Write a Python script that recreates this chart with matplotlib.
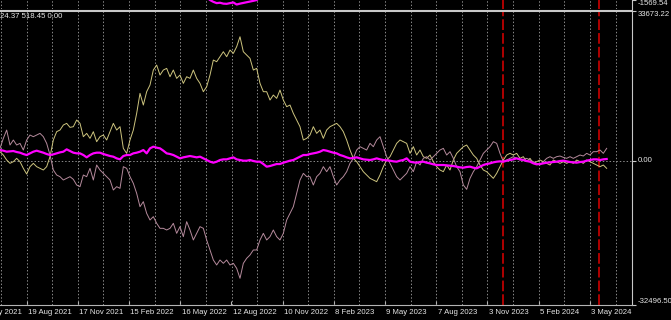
import numpy as np
import matplotlib.pyplot as plt
from matplotlib import transforms

# one value every ~3.3 px of the chart (sample index is the x unit)
yellow = [2010, 1260, 135, -615, -240, 510, -240, -1740, -3015, -1365,
          -615, -1365, -1740, -2115, -1365, 885, 4635, 6510, 6885, 8010,
          8385, 7485, 7635, 9135, 8385, 5385, 6135, 5010, 6510, 4260,
          5385, 5760, 4635, 6510, 8385, 6885, 7635, 2760, 1635, 4635,
          6885, 10635, 15135, 12510, 15510, 17010, 20385, 21510, 19260, 20385,
          20760, 18885, 20385, 18510, 19260, 17385, 18885, 18510, 20385, 18510,
          17385, 15510, 16635, 19260, 22635, 22260, 23385, 24510, 23385, 24885,
          24135, 25635, 27885, 24510, 23760, 23010, 20385, 20760, 17385, 15510,
          15510, 13635, 14760, 14010, 15885, 13635, 12135, 12510, 10635, 9135,
          7635, 4635, 5010, 5760, 7635, 6135, 6885, 5010, 6885,
          7635, 8010, 8385, 7635, 6510, 4635, 2385, 510, -240, -1365,
          -2490, -3240, -3990, -4365, -4740, -3240, -1365, 135, 885, 2385,
          3885, 4635, 4260, 3885, 1635, 3135, 1260, 2385, 885, 510,
          1260, -240, -1365, -2115, -2490, -990, -2115, 135, 1635, 2385,
          3135, 3510, 2385, 1260, 510, -990, -2115, -2490, -3240, -3990,
          -2865, -1365, 135, 1260, 1635, 1260, 1635, 510, 885, -240,
          510, -615, -240, 135, -240, -615, -990, 135, -240, -615,
          -240, -615, -240, -615, 135, -240, -615, 135, -240, -615,
          -990, -1365, -990, -1740]

pink = [2760, 5010, 6885, 3510, 4635, 3510, 3885, 2385, 4635, 5760,
        5385, 5760, 6135, 5385, 3885, 1260, -2115, -3240, -3615, -4365,
        -3990, -3615, -4215, -5490, -5865, -3240, -3615, -1740, -4365, -990,
        -2115, -2865, -3615, -4365, -6615, -5865, -6240, -1365, -1740, -3615,
        -5115, -7365, -10365, -9240, -11865, -13365, -12615, -14115, -15240, -15240,
        -15615, -15240, -14115, -16365, -14865, -17115, -13740, -15615, -17865, -16365,
        -14865, -15240, -17865, -20115, -22365, -23490, -22365, -23115, -22365, -23490,
        -23115, -24240, -26490, -23115, -21990, -21240, -20115, -20115, -17865, -16365,
        -17865, -17115, -15615, -17115, -17865, -16365, -13365, -11865, -10365, -7365,
        -4365, -2865, -3615, -3615, -5490, -3615, -2865, -1365, -2490,
        -1365, -3615, -5490, -4365, -3615, -2490, -615, 510, 2385, 3135,
        2760, 2385, 3885, 3135, 4635, 5385, 3135, 885, -615, -2115,
        -3615, -4365, -3615, -2865, -1365, -2490, -240, -990, 510, 885,
        135, 885, 1635, 2385, 2760, 1260, 2010, 510, -1365, -2490,
        -5490, -6465, -3990, -2490, -1365, 135, 1635, 2385, 3135, 4260,
        3885, 1635, -240, 135, 510, 885, 510, 135, 285, 510,
        135, -240, -615, -990, -240, 510, 885, 510, 885, 1035,
        735, 510, 885, 510, 885, 1260, 1035, 1635, 1260, 2010,
        2010, 2385, 1635, 2760]

magenta = [2385, 2235, 2010, 2085, 2160, 1935, 1785, 1485, 1260, 1635,
           2010, 2235, 2010, 1785, 1485, 1260, 1410, 1635, 1860, 2010,
           2535, 2160, 1785, 1635, 1635, 1260, 735, 1260, 1635, 1785,
           1785, 1485, 1260, 1035, 885, 510, 285, 1035, 1260, 1260,
           1635, 1785, 2010, 2385, 1635, 2760, 3135, 2910, 2760, 2235,
           1635, 1485, 1260, 885, 510, 735, 885, 1035, 885, 735,
           885, 510, 135, -240, -465, -240, 135, 285, 285, 510,
           735, 285, 135, -15, -15, 135, -90, -240, -240, -765,
           -1365, -1215, -990, -765, -765, -465, -240, -15, 135, 510,
           885, 1260, 1260, 1485, 1635, 1785, 2010, 2385, 2235,
           2010, 1785, 1635, 1260, 1035, 735, 510, 585, 735, 510,
           285, 210, 135, 285, 510, 285, 135, 60, -15, -165,
           -240, -15, 135, 510, -240, -390, -465, -315, -240, -465,
           -615, -840, -990, -990, -990, -1065, -1140, -1215, -1365, -1515,
           -1590, -1440, -1365, -1590, -1740, -1365, -990, -765, -615, -390,
           -240, -165, -240, -15, 135, 285, 510, 285, 135, -90,
           -240, -615, -840, -765, -615, -465, -390, -315, -240, -90,
           -15, -165, -315, -390, -465, -315, -240, -15, 135, 285,
           285, 135, 285, 360]

# the piece of the upper window that is visible
top_start = 62
top_vals = [-1542, -1570, -1588, -1601, -1597, -1606, -1608, -1601, -1594,
            -1615, -1606, -1599, -1592, -1585, -1578, -1570, -1542]

date_labels = ["20 May 2021", "19 Aug 2021", "17 Nov 2021", "15 Feb 2022",
               "16 May 2022", "12 Aug 2022", "10 Nov 2022", "8 Feb 2023",
               "9 May 2023", "7 Aug 2023", "3 Nov 2023", "5 Feb 2024", "3 May 2024"]
first_label = -7.36
label_step = 15.36
events = [151.0, 179.8]

main_max, main_min = 33673.22, -32496.50
top_max = -1569.54

bg = 'black'
txt = '#e6e6e6'
axis_col = '#c8c8c8'
grid_col = '#8a8a8a'
x_right = 632 / (10 / 3)

fig = plt.figure(figsize=(6.71, 3.2), dpi=100, facecolor=bg)
ax = fig.add_axes([0, 15 / 320, 632 / 671, 294 / 320])
axt = fig.add_axes([0, 311 / 320, 632 / 671, 9 / 320], sharex=ax)

label_pos = first_label + label_step * np.arange(len(date_labels))
grid_pos = np.arange(0.33, x_right, label_step / 2)

for a in (ax, axt):
    a.set_facecolor(bg)
    for s in a.spines.values():
        s.set_visible(False)
    a.spines['right'].set_visible(True)
    a.spines['right'].set_color(axis_col)
    a.spines['right'].set_linewidth(0.8)
    a.set_xticks(grid_pos, minor=True)
    a.grid(which='minor', axis='x', color=grid_col, lw=0.7, ls=(0, (1.5, 2)))
    a.tick_params(which='minor', length=0)
    for e in events:
        a.axvline(e, color='#e00000', lw=1.1, ls=(0, (7, 2)), zorder=1)

ax.set_xlim(0, x_right)
ax.set_ylim(main_min, main_max)
ax.axhline(0, color=grid_col, lw=0.7, ls=(0, (1.5, 2)), zorder=1)

x = np.arange(len(yellow))
ax.plot(x, yellow, color='#cdc47e', lw=0.7, zorder=3)
ax.plot(np.arange(len(pink)), pink, color='#b58a9c', lw=0.7, zorder=3)
ax.plot(np.arange(len(magenta)), magenta, color='#ff00ff', lw=1.6, zorder=4)

ax.spines['top'].set_visible(True)
ax.spines['top'].set_color(axis_col)
ax.spines['top'].set_linewidth(1.5)
ax.spines['bottom'].set_visible(True)
ax.spines['bottom'].set_color('#b4b4b4')
ax.spines['bottom'].set_linewidth(0.8)

# x ticks: marks only, the dates are drawn as left aligned text
vis = [p for p in label_pos if 0 <= p <= x_right]
ax.set_xticks(vis)
ax.tick_params(axis='x', which='major', length=3, direction='in', color='#b4b4b4',
               labelbottom=False)
trans = transforms.blended_transform_factory(ax.transData, ax.transAxes)
for p, lab in zip(label_pos, date_labels):
    ax.text(p + 0.4, -0.013, lab, transform=trans, ha='left', va='top',
            color=txt, fontsize=5.6, family='Liberation Sans', clip_on=False)

ax.yaxis.tick_right()
ax.set_yticks([main_max, 0.0, main_min])
ax.set_yticklabels([f'{v:.2f}' for v in (main_max, 0.0, main_min)])
ax.tick_params(axis='y', length=3, color=axis_col, labelcolor=txt, pad=1,
               labelsize=5.6)
for lab, va in zip(ax.get_yticklabels(), ['top', 'center', 'bottom']):
    lab.set_va(va)
    lab.set_family('Liberation Sans')

axt.plot(np.arange(top_start, top_start + len(top_vals)), top_vals,
         color='#ff00ff', lw=1.6)
axt.set_ylim(-1660, top_max)
axt.yaxis.tick_right()
axt.set_yticks([top_max])
axt.set_yticklabels([f'{top_max:.2f}'])
axt.tick_params(axis='y', length=3, color=axis_col, labelcolor=txt, pad=1,
                labelsize=5.6)
axt.get_yticklabels()[0].set_va('top')
axt.get_yticklabels()[0].set_family('Liberation Sans')
axt.tick_params(axis='x', which='major', length=0, labelbottom=False)

fig.text(0.0, 1 - 17 / 320, '24.37 518.45 0.00', color=txt, fontsize=5.6,
         family='Liberation Sans', ha='left', va='center')

fig.savefig('out.png', dpi=100, facecolor=bg)
